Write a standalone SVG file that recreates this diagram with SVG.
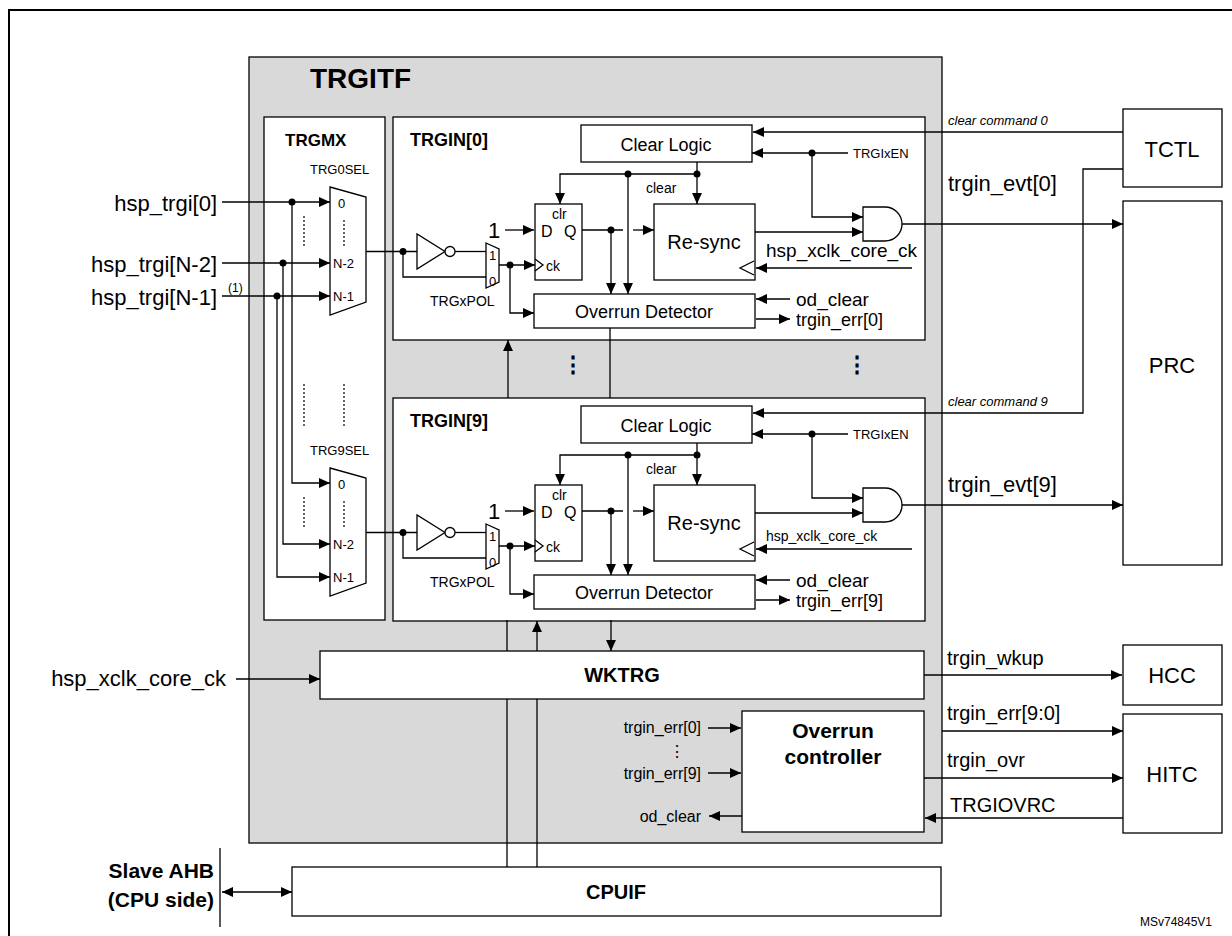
<svg xmlns="http://www.w3.org/2000/svg" width="1232" height="936" viewBox="0 0 1232 936">
<defs>
<marker id="a" viewBox="0 0 10 10" refX="10" refY="5" markerWidth="12" markerHeight="11" markerUnits="userSpaceOnUse" orient="auto"><path d="M0,0.5 L10,5 L0,9.5 z" fill="#000"/></marker>
<marker id="s" viewBox="0 0 10 10" refX="0" refY="5" markerWidth="12" markerHeight="11" markerUnits="userSpaceOnUse" orient="auto"><path d="M10,0.5 L0,5 L10,9.5 z" fill="#000"/></marker>
</defs>
<style>
text{font-family:"Liberation Sans",Arial,sans-serif;fill:#000}
.b{fill:#fff;stroke:#000;stroke-width:1.3}
.l{fill:none;stroke:#000;stroke-width:1.3}
.ar{fill:none;stroke:#000;stroke-width:1.3;marker-end:url(#a)}
.dt{fill:none;stroke:#000;stroke-width:1.2;stroke-dasharray:2,2}
.bold{font-weight:bold}
</style>
<rect x="9" y="10" width="1240" height="940" fill="#fff" stroke="#000" stroke-width="2"/>
<g id="TRGITF"><rect x="249" y="57" width="693" height="786" fill="#d9d9d9" stroke="#000" stroke-width="1.3"/>
<text x="310" y="88" font-size="28" class="bold">TRGITF</text></g>
<g id="TRGMX"><rect class="b" x="264" y="117" width="121" height="503"/>
<text x="285" y="146" font-size="17" class="bold">TRGMX</text>
<text x="310" y="174" font-size="13">TRG0SEL</text>
<polygon class="b" points="330,187 366,197 366,302 330,315"/>
<text x="338" y="208" font-size="13">0</text><text x="333" y="268" font-size="13">N-2</text><text x="333" y="301" font-size="13">N-1</text>
<line class="dt" x1="344" y1="220" x2="344" y2="246"/><line class="dt" x1="304" y1="216" x2="304" y2="246"/>
<line class="dt" x1="344" y1="384" x2="344" y2="426"/><line class="dt" x1="304" y1="384" x2="304" y2="426"/>
<text x="310" y="455" font-size="13">TRG9SEL</text>
<polygon class="b" points="330,468 366,478 366,583 330,596"/>
<text x="338" y="489" font-size="13">0</text><text x="333" y="549" font-size="13">N-2</text><text x="333" y="582" font-size="13">N-1</text>
<line class="dt" x1="344" y1="501" x2="344" y2="527"/><line class="dt" x1="304" y1="497" x2="304" y2="527"/>
</g>
<g id="TRGIN0">
<rect class="b" x="393" y="117" width="532" height="223"/>
<text x="410" y="146" font-size="18" class="bold">TRGIN[0]</text>
<rect class="b" x="581" y="125" width="171" height="37"/><text x="666" y="151" font-size="18" text-anchor="middle">Clear Logic</text>
<rect class="b" x="535" y="204" width="47" height="76"/>
<text x="552" y="219" font-size="14">clr</text><text x="541" y="237" font-size="16">D</text><text x="564" y="237" font-size="16">Q</text>
<polyline class="l" points="535,259 543,265 535,271"/><text x="546" y="271" font-size="14">ck</text>
<rect class="b" x="654" y="204" width="101" height="76"/><text x="704" y="249" font-size="20" text-anchor="middle">Re-sync</text>
<polyline class="l" points="754,261 740,268 754,275"/>
<rect class="b" x="534" y="294" width="221" height="34"/><text x="644" y="318" font-size="18" text-anchor="middle">Overrun Detector</text>
<polygon class="b" points="417,234 417,269 445,251.5"/><circle class="b" cx="450" cy="251.5" r="5"/>
<polygon class="b" points="486,243 499,249 499,282 486,288"/>
<text x="489" y="260" font-size="13">1</text><text x="489" y="286" font-size="13">0</text>
<path class="b" d="M863,207 H885 A17,17 0 0 1 885,241 H863 Z"/>
<text x="646" y="193" font-size="14">clear</text>
<text x="488" y="238" font-size="22">1</text>
<text x="430" y="306" font-size="14">TRGxPOL</text>
<text x="853" y="158" font-size="13">TRGIxEN</text>
<text x="766" y="257" font-size="19">hsp_xclk_core_ck</text>
<text x="796" y="306" font-size="19">od_clear</text>
<text x="796" y="326" font-size="18">trgin_err[0]</text>
<g class="l">
<line class="ar" x1="697" y1="162" x2="697" y2="204"/>
<polyline class="ar" points="697,174 560,174 560,204"/>
<line class="ar" x1="628" y1="174" x2="628" y2="294"/>
<line x1="582" y1="230" x2="623" y2="230"/><line class="ar" x1="633" y1="230" x2="654" y2="230"/>
<line class="ar" x1="611" y1="230" x2="611" y2="294"/>
<line class="ar" x1="755" y1="232" x2="863" y2="232"/>
<line class="ar" x1="848" y1="153" x2="752" y2="153"/>
<polyline class="ar" points="812,153 812,217 863,217"/>
<line class="ar" x1="912" y1="268" x2="756" y2="268"/>
<line class="ar" x1="790" y1="299" x2="756" y2="299"/>
<line class="ar" x1="756" y1="319" x2="790" y2="319"/>
<line x1="366" y1="251.5" x2="417" y2="251.5"/>
<polyline points="403,251.5 403,277 486,277"/>
<line x1="455" y1="251.5" x2="486" y2="251.5"/>
<line class="ar" x1="499" y1="265" x2="535" y2="265"/>
<polyline class="ar" points="510,265 510,313 534,313"/>
<line class="ar" x1="505" y1="230" x2="534" y2="230"/>
</g>
<g><circle cx="697" cy="174" r="3.5"/><circle cx="628" cy="174" r="3.5"/><circle cx="611" cy="230" r="3.5"/><circle cx="812" cy="153" r="3.5"/><circle cx="403" cy="251.5" r="3.5"/><circle cx="510" cy="265" r="3.5"/></g>
</g>
<g id="TRGIN9" transform="translate(0,281)">
<rect class="b" x="393" y="117" width="532" height="223"/>
<text x="410" y="146" font-size="18" class="bold">TRGIN[9]</text>
<rect class="b" x="581" y="125" width="171" height="37"/><text x="666" y="151" font-size="18" text-anchor="middle">Clear Logic</text>
<rect class="b" x="535" y="204" width="47" height="76"/>
<text x="552" y="219" font-size="14">clr</text><text x="541" y="237" font-size="16">D</text><text x="564" y="237" font-size="16">Q</text>
<polyline class="l" points="535,259 543,265 535,271"/><text x="546" y="271" font-size="14">ck</text>
<rect class="b" x="654" y="204" width="101" height="76"/><text x="704" y="249" font-size="20" text-anchor="middle">Re-sync</text>
<polyline class="l" points="754,261 740,268 754,275"/>
<rect class="b" x="534" y="294" width="221" height="34"/><text x="644" y="318" font-size="18" text-anchor="middle">Overrun Detector</text>
<polygon class="b" points="417,234 417,269 445,251.5"/><circle class="b" cx="450" cy="251.5" r="5"/>
<polygon class="b" points="486,243 499,249 499,282 486,288"/>
<text x="489" y="260" font-size="13">1</text><text x="489" y="286" font-size="13">0</text>
<path class="b" d="M863,207 H885 A17,17 0 0 1 885,241 H863 Z"/>
<text x="646" y="193" font-size="14">clear</text>
<text x="488" y="238" font-size="22">1</text>
<text x="430" y="306" font-size="14">TRGxPOL</text>
<text x="853" y="158" font-size="13">TRGIxEN</text>
<text x="766" y="260" font-size="14">hsp_xclk_core_ck</text>
<text x="796" y="306" font-size="19">od_clear</text>
<text x="796" y="326" font-size="18">trgin_err[9]</text>
<g class="l">
<line class="ar" x1="697" y1="162" x2="697" y2="204"/>
<polyline class="ar" points="697,174 560,174 560,204"/>
<line class="ar" x1="628" y1="174" x2="628" y2="294"/>
<line x1="582" y1="230" x2="623" y2="230"/><line class="ar" x1="633" y1="230" x2="654" y2="230"/>
<line class="ar" x1="611" y1="230" x2="611" y2="294"/>
<line class="ar" x1="755" y1="232" x2="863" y2="232"/>
<line class="ar" x1="848" y1="153" x2="752" y2="153"/>
<polyline class="ar" points="812,153 812,217 863,217"/>
<line class="ar" x1="912" y1="268" x2="756" y2="268"/>
<line class="ar" x1="790" y1="299" x2="756" y2="299"/>
<line class="ar" x1="756" y1="319" x2="790" y2="319"/>
<line x1="366" y1="251.5" x2="417" y2="251.5"/>
<polyline points="403,251.5 403,277 486,277"/>
<line x1="455" y1="251.5" x2="486" y2="251.5"/>
<line class="ar" x1="499" y1="265" x2="535" y2="265"/>
<polyline class="ar" points="510,265 510,313 534,313"/>
<line class="ar" x1="505" y1="230" x2="534" y2="230"/>
</g>
<g><circle cx="697" cy="174" r="3.5"/><circle cx="628" cy="174" r="3.5"/><circle cx="611" cy="230" r="3.5"/><circle cx="812" cy="153" r="3.5"/><circle cx="403" cy="251.5" r="3.5"/><circle cx="510" cy="265" r="3.5"/></g>
</g>
<g id="dots"><text x="573" y="372" font-size="22" text-anchor="middle" class="bold">⋮</text><text x="857" y="372" font-size="22" text-anchor="middle" class="bold">⋮</text></g>
<g id="connectors">
<line class="l" x1="507" y1="620" x2="507" y2="867"/>
<line class="l" x1="537" y1="867" x2="537" y2="699"/>
<line class="ar" x1="537" y1="651" x2="537" y2="621"/>
<line class="ar" x1="611" y1="620" x2="611" y2="651"/>
<line class="ar" x1="508" y1="398" x2="508" y2="340"/>
<line class="l" x1="610" y1="328" x2="610" y2="398"/>
<line class="ar" x1="222" y1="202" x2="330" y2="202"/>
<line class="ar" x1="222" y1="263" x2="330" y2="263"/>
<line class="ar" x1="222" y1="296" x2="330" y2="296"/>
<polyline class="ar" points="292,202 292,483 330,483"/>
<polyline class="ar" points="283,263 283,544 330,544"/>
<polyline class="ar" points="277,296 277,577 330,577"/>
<circle cx="292" cy="202" r="3.5"/><circle cx="283" cy="263" r="3.5"/><circle cx="277" cy="296" r="3.5"/>
<line class="ar" x1="1123" y1="132" x2="753" y2="132"/>
<polyline class="ar" points="1123,169 1083,169 1083,413 753,413"/>
<line class="ar" x1="902" y1="224" x2="1123" y2="224"/>
<line class="ar" x1="902" y1="505" x2="1123" y2="505"/>
<line class="ar" x1="236" y1="679" x2="320" y2="679"/>
<line class="ar" x1="924" y1="675" x2="1122" y2="675"/>
<line class="ar" x1="942" y1="731" x2="1123" y2="731"/>
<line class="ar" x1="924" y1="778" x2="1123" y2="778"/>
<line class="ar" x1="1123" y1="818" x2="925" y2="818"/>
<line class="ar" x1="708" y1="728" x2="741" y2="728"/>
<line class="ar" x1="708" y1="773" x2="741" y2="773"/>
<line class="ar" x1="742" y1="816" x2="709" y2="816"/>
<line x1="222" y1="892" x2="292" y2="892" stroke="#000" stroke-width="1.3" marker-start="url(#s)" marker-end="url(#a)"/>
<line class="l" x1="220" y1="848" x2="220" y2="927"/>
</g>
<g id="labels">
<text x="217" y="211" font-size="22" text-anchor="end">hsp_trgi[0]</text>
<text x="217" y="272" font-size="22" text-anchor="end">hsp_trgi[N-2]</text>
<text x="217" y="305" font-size="22" text-anchor="end">hsp_trgi[N-1]</text>
<text x="228" y="292" font-size="12">(1)</text>
<text x="948" y="125" font-size="13" font-style="italic">clear command 0</text>
<text x="948" y="406" font-size="13" font-style="italic">clear command 9</text>
<text x="948" y="191" font-size="22">trgin_evt[0]</text>
<text x="948" y="492" font-size="22">trgin_evt[9]</text>
<text x="226" y="686" font-size="22" text-anchor="end">hsp_xclk_core_ck</text>
<text x="947" y="665" font-size="20">trgin_wkup</text>
<text x="947" y="720" font-size="20">trgin_err[9:0]</text>
<text x="947" y="767" font-size="20">trgin_ovr</text>
<text x="950" y="812" font-size="20">TRGIOVRC</text>
<text x="701" y="733" font-size="16" text-anchor="end">trgin_err[0]</text>
<text x="677" y="757" font-size="16" text-anchor="middle">⋮</text>
<text x="701" y="779" font-size="16" text-anchor="end">trgin_err[9]</text>
<text x="701" y="822" font-size="16" text-anchor="end">od_clear</text>
<text x="214" y="878" font-size="21" text-anchor="end" class="bold">Slave AHB</text>
<text x="214" y="907" font-size="21" text-anchor="end" class="bold">(CPU side)</text>
<text x="1140" y="926" font-size="12">MSv74845V1</text>
</g>
<g id="WKTRG"><rect class="b" x="320" y="651" width="604" height="48"/><text x="622" y="682" font-size="20" text-anchor="middle" class="bold">WKTRG</text></g>
<g id="OVRCTRL"><rect class="b" x="742" y="711" width="182" height="121"/><text x="833" y="738" font-size="21" text-anchor="middle" class="bold">Overrun</text><text x="833" y="764" font-size="21" text-anchor="middle" class="bold">controller</text></g>
<g id="CPUIF"><rect class="b" x="292" y="867" width="649" height="49"/><text x="616" y="899" font-size="20" text-anchor="middle" class="bold">CPUIF</text></g>
<g id="TCTL"><rect class="b" x="1123" y="109" width="99" height="78"/><text x="1172" y="157" font-size="22" text-anchor="middle">TCTL</text></g>
<g id="PRC"><rect class="b" x="1123" y="201" width="99" height="364"/><text x="1172" y="373" font-size="22" text-anchor="middle">PRC</text></g>
<g id="HCC"><rect class="b" x="1123" y="645" width="99" height="60"/><text x="1172" y="683" font-size="22" text-anchor="middle">HCC</text></g>
<g id="HITC"><rect class="b" x="1123" y="714" width="99" height="119"/><text x="1172" y="782" font-size="22" text-anchor="middle">HITC</text></g>
</svg>
